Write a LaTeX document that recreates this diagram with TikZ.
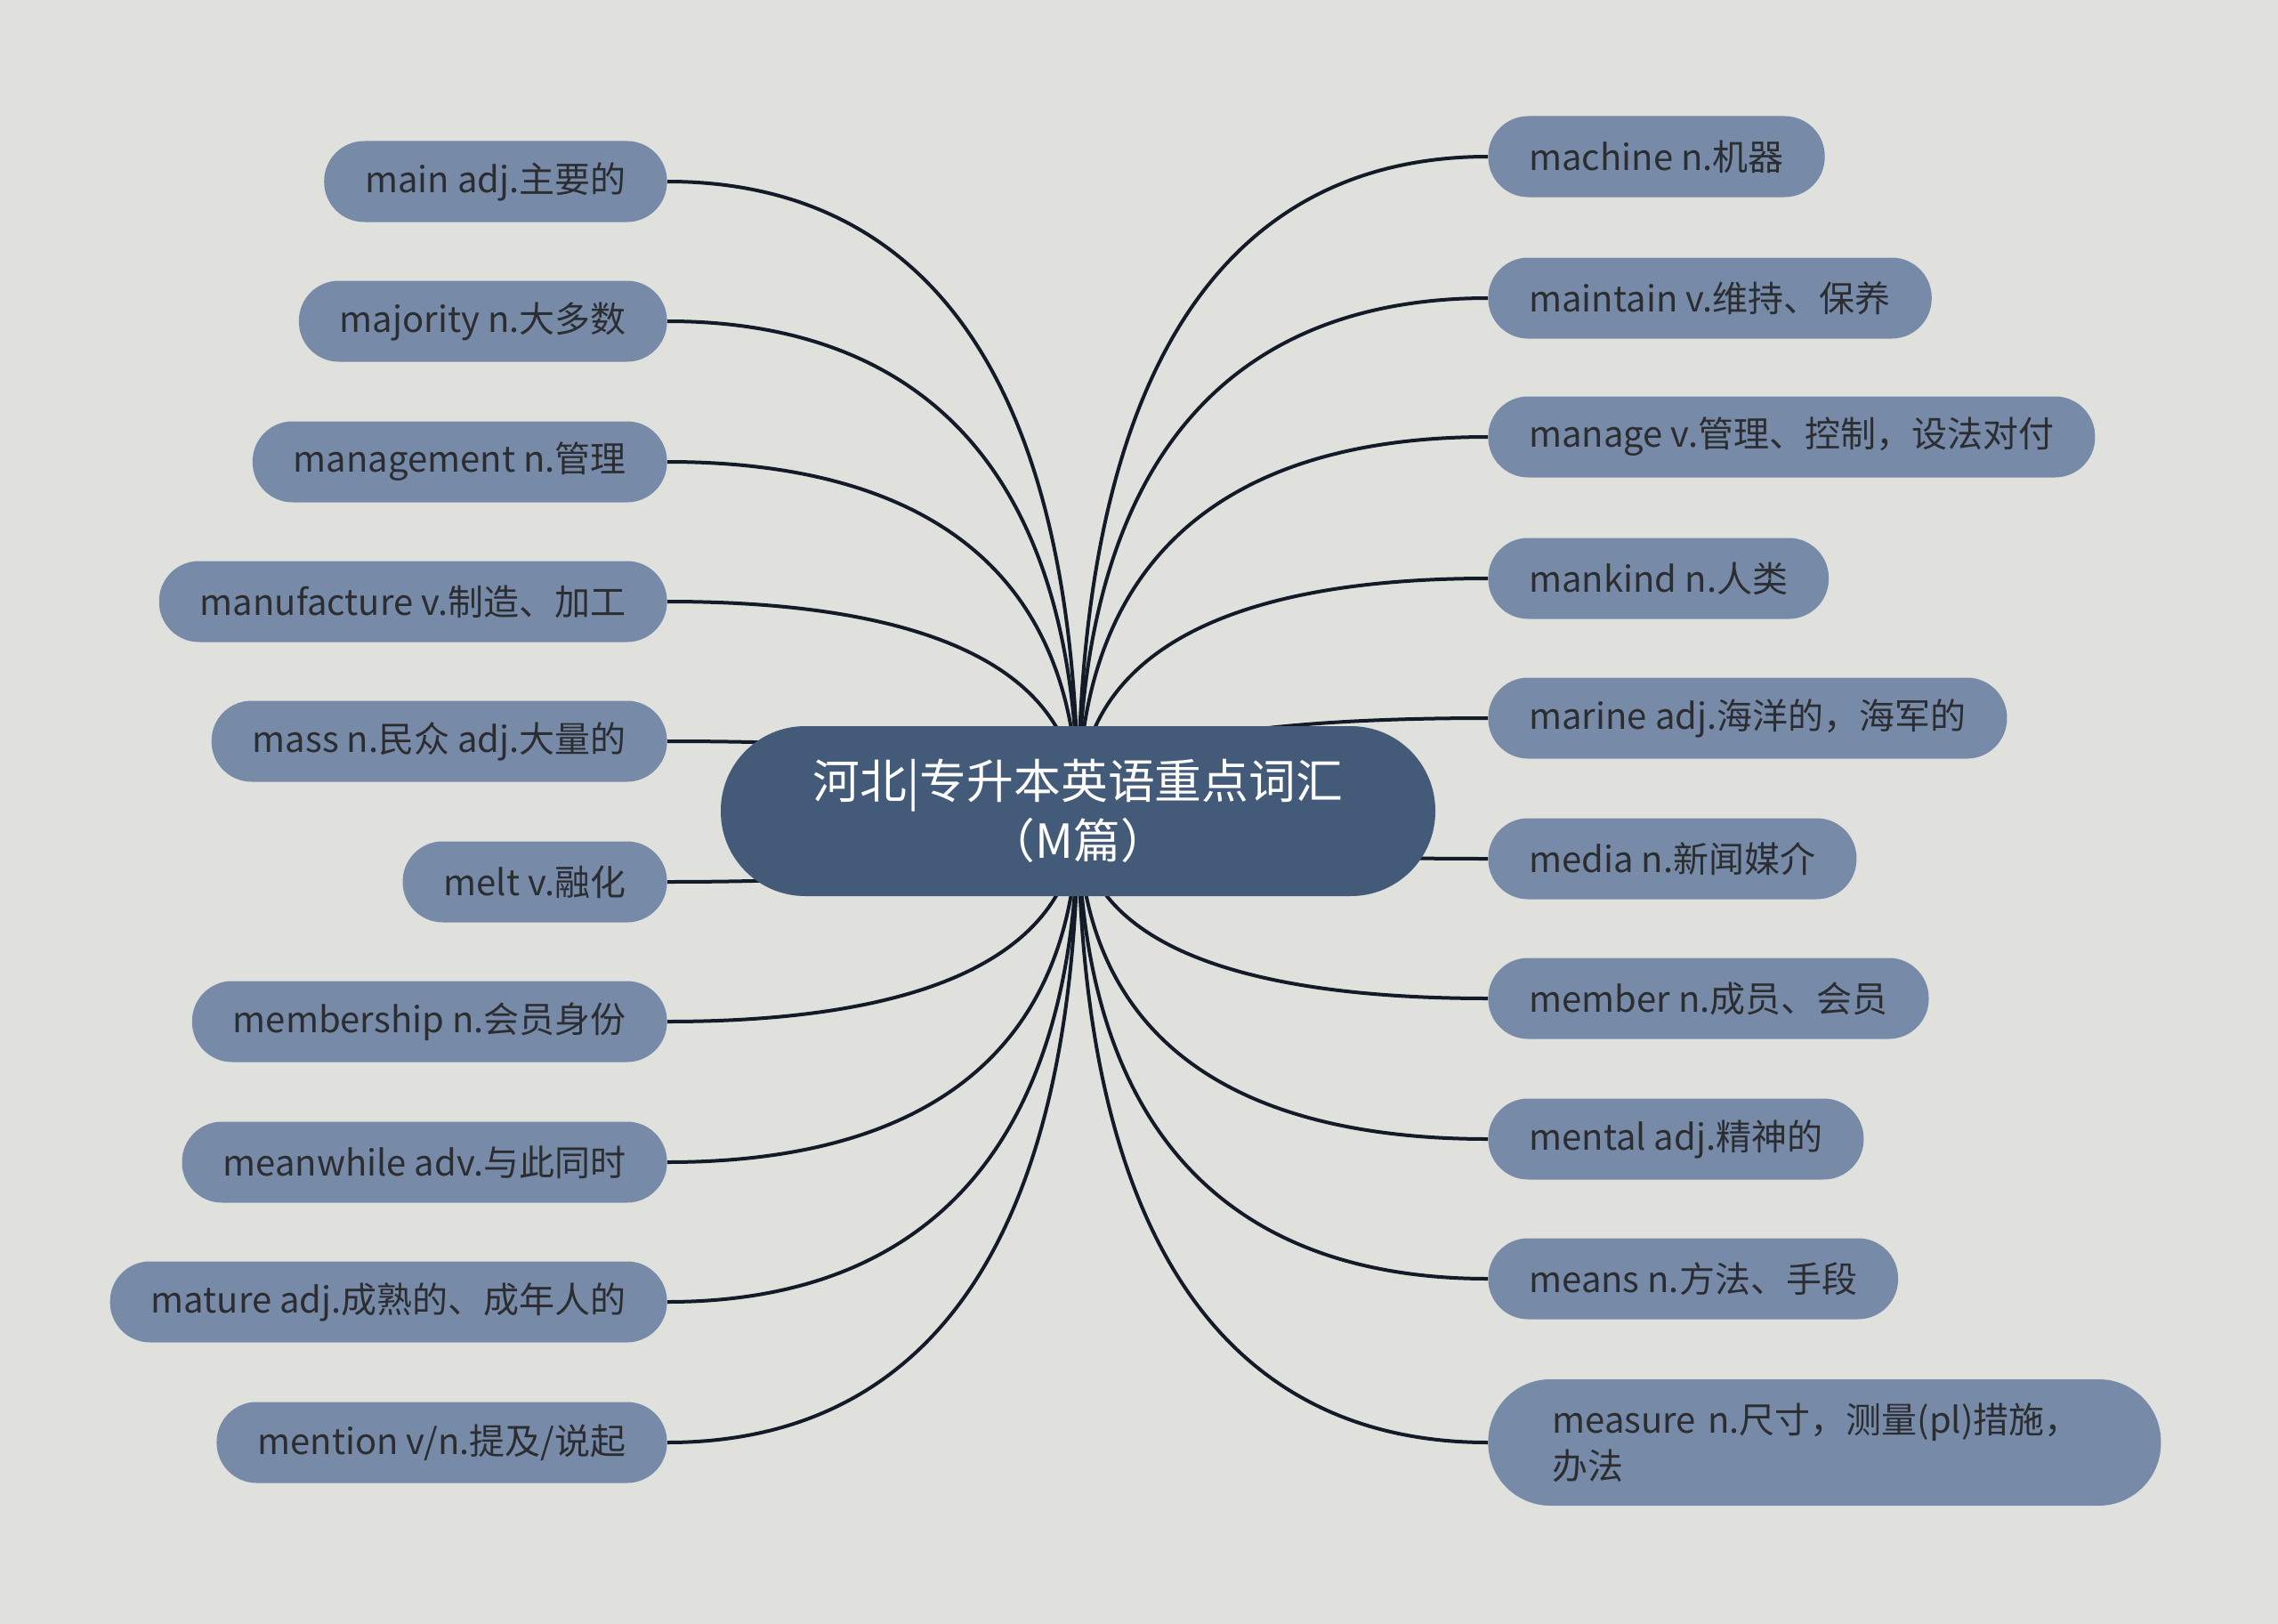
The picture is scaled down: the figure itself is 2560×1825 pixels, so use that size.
\documentclass[tikz,border=0pt]{standalone}
\usepackage{fontspec}
\newfontfamily\cjk{Noto Sans CJK SC}
\usetikzlibrary{calc}
\definecolor{bgcol}{HTML}{E0E1DC}
\definecolor{leaffill}{HTML}{778BA9}
\definecolor{rootfill}{HTML}{435A78}
\definecolor{leaftext}{HTML}{2B2D30}
\definecolor{linecol}{HTML}{141B28}
\pgfdeclarelayer{back}
\pgfdeclarelayer{lines}
\pgfsetlayers{back,lines,main}
\begin{document}
\begin{tikzpicture}[x=0.5pt,y=-0.5pt,
  leaf/.style={rounded corners=22.5pt, fill=leaffill, text=leaftext,
    font=\cjk\fontsize{20}{26}\selectfont, minimum height=45.5pt,
    inner xsep=23pt, inner ysep=0pt},
  rootbox/.style={rounded corners=47.5pt, fill=rootfill, text=white,
    font=\cjk\fontsize{26.4}{33.5}\selectfont, minimum height=95.5pt,
    minimum width=401.5pt, align=center, inner sep=0pt},
  conn/.style={draw=linecol, line width=2pt}]
\begin{pgfonlayer}{back}
\fill[bgcol] (0,0) rectangle (2560,1825);
\end{pgfonlayer}

\node[rootbox] (c) at (1211.5,911.5) {河北|专升本英语重点词汇\\（M篇）};

% left branch
\node[leaf, anchor=east] (l1) at (750,204) {main adj.主要的};
\node[leaf, anchor=east] (l2) at (750,361) {majority n.大多数};
\node[leaf, anchor=east] (l3) at (750,519) {management n.管理};
\node[leaf, anchor=east] (l4) at (750,676) {manufacture v.制造、加工};
\node[leaf, anchor=east] (l5) at (750,833) {mass n.民众 adj.大量的};
\node[leaf, anchor=east] (l6) at (750,991) {melt v.融化};
\node[leaf, anchor=east] (l7) at (750,1148) {membership n.会员身份};
\node[leaf, anchor=east] (l8) at (750,1306) {meanwhile adv.与此同时};
\node[leaf, anchor=east] (l9) at (750,1463) {mature adj.成熟的、成年人的};
\node[leaf, anchor=east] (l10) at (750,1621) {mention v/n.提及/说起};

% right branch
\node[leaf, anchor=west] (r1) at (1672,176) {machine n.机器};
\node[leaf, anchor=west] (r2) at (1672,335) {maintain v.维持、保养};
\node[leaf, anchor=west] (r3) at (1672,491) {manage v.管理、控制，设法对付};
\node[leaf, anchor=west] (r4) at (1672,650) {mankind n.人类};
\node[leaf, anchor=west] (r5) at (1672,807) {marine adj.海洋的，海军的};
\node[leaf, anchor=west] (r6) at (1672,965) {media n.新闻媒介};
\node[leaf, anchor=west] (r7) at (1672,1122) {member n.成员、会员};
\node[leaf, anchor=west] (r8) at (1672,1280) {mental adj.精神的};
\node[leaf, anchor=west] (r9) at (1672,1437) {means n.方法、手段};
\node[leaf, anchor=west, rounded corners=35pt, minimum height=71pt,
  minimum width=378pt, text width=306pt, inner xsep=36pt, align=left]
  (r10) at (1672,1621) {measure n.尺寸，测量(pl)措施，\\办法};

\begin{pgfonlayer}{lines}
\foreach \n in {l1,l2,l3,l4,l5,l6,l7,l8,l9,l10}
  \draw[conn] (c.center) .. controls ($(c.center)!0.8!(c.center|-\n.east)$)
    and ($(\n.east)!0.5!(\n.east-|c.center)$) .. (\n.east);
\foreach \n in {r1,r2,r3,r4,r5,r6,r7,r8,r9,r10}
  \draw[conn] (c.center) .. controls ($(c.center)!0.8!(c.center|-\n.west)$)
    and ($(\n.west)!0.5!(\n.west-|c.center)$) .. (\n.west);
\end{pgfonlayer}
\end{tikzpicture}
\end{document}
